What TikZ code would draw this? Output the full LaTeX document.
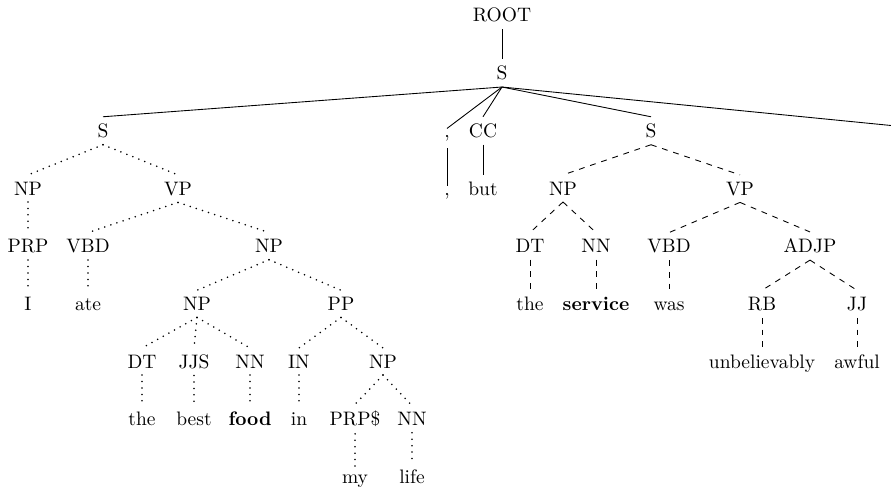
\documentclass[tikz,border=0pt]{standalone}
\begin{document}
\begin{tikzpicture}[x=0.5128pt,y=-0.5128pt,
  tn/.style={anchor=base,inner sep=3.33pt},
  soledge/.style={line width=0.45pt},
  dotedge/.style={line width=0.9pt,line cap=round,dash pattern=on 0pt off 3.3pt},
  dashedge/.style={line width=0.45pt,dashed}]
\useasboundingbox (0,0) rectangle (891,488);
% level baselines
\def\La{22}\def\Lb{79.7}\def\Lc{137.4}\def\Ld{195.1}\def\Le{252.8}
\def\Lf{310.5}\def\Lg{368.2}\def\Lh{425.9}\def\Li{483.6}
% nodes
\node[tn] (root) at (502,\La) {ROOT};
\node[tn] (s) at (502,\Lb) {S};
\node[tn] (sl) at (103,\Lc) {S};
\node[tn] (c1) at (447,\Lc) {,};
\node[tn] (cc) at (483,\Lc) {CC};
\node[tn] (sr) at (651,\Lc) {S};
\coordinate (offend) at (891,125.5);
% level 3
\node[tn] (np1) at (28,\Ld) {NP};
\node[tn] (vp1) at (178,\Ld) {VP};
\node[tn] (c2) at (447,\Ld) {,};
\node[tn] (but) at (483,\Ld) {but};
\node[tn] (np2) at (563,\Ld) {NP};
\node[tn] (vp2) at (740,\Ld) {VP};
% level 4
\node[tn] (prp) at (28,\Le) {PRP};
\node[tn] (vbd1) at (88,\Le) {VBD};
\node[tn] (np3) at (269,\Le) {NP};
\node[tn] (dt2) at (530,\Le) {DT};
\node[tn] (nn2) at (596,\Le) {NN};
\node[tn] (vbd2) at (669,\Le) {VBD};
\node[tn] (adjp) at (810,\Le) {ADJP};
% level 5
\node[tn] (i) at (28,\Lf) {I};
\node[tn] (ate) at (88,\Lf) {ate};
\node[tn] (np4) at (197,\Lf) {NP};
\node[tn] (pp) at (341,\Lf) {PP};
\node[tn] (the2) at (530,\Lf) {the};
\node[tn] (service) at (596,\Lf) {\textbf{service}};
\node[tn] (was) at (669,\Lf) {was};
\node[tn] (rb) at (762,\Lf) {RB};
\node[tn] (jj) at (857,\Lf) {JJ};
% level 6
\node[tn] (dt1) at (142,\Lg) {DT};
\node[tn] (jjs) at (194,\Lg) {JJS};
\node[tn] (nn1) at (250,\Lg) {NN};
\node[tn] (in) at (299,\Lg) {IN};
\node[tn] (np5) at (383,\Lg) {NP};
\node[tn] (unb) at (762,\Lg) {unbelievably};
\node[tn] (awful) at (857,\Lg) {awful};
% level 7
\node[tn] (the1) at (142,\Lh) {the};
\node[tn] (best) at (194,\Lh) {best};
\node[tn] (food) at (250,\Lh) {\textbf{food}};
\node[tn] (inw) at (299,\Lh) {in};
\node[tn] (prps) at (355,\Lh) {PRP\$};
\node[tn] (nn3) at (412,\Lh) {NN};
% level 8
\node[tn] (my) at (355,\Li) {my};
\node[tn] (life) at (412,\Li) {life};
% solid edges
\draw[soledge] (root.south) -- (s.north);
\draw[soledge] (s.south) -- (sl.north);
\draw[soledge] (s.south) -- (c1.north);
\draw[soledge] (s.south) -- (cc.north);
\draw[soledge] (s.south) -- (sr.north);
\draw[soledge] (s.south) -- (offend);
\draw[soledge] (c1.south) -- (c2.north);
\draw[soledge] (cc.south) -- (but.north);
% dotted edges (left clause)
\draw[dotedge] (sl.south) -- (np1.north);
\draw[dotedge] (sl.south) -- (vp1.north);
\draw[dotedge] (np1.south) -- (prp.north);
\draw[dotedge] (prp.south) -- (i.north);
\draw[dotedge] (vp1.south) -- (vbd1.north);
\draw[dotedge] (vp1.south) -- (np3.north);
\draw[dotedge] (vbd1.south) -- (ate.north);
\draw[dotedge] (np3.south) -- (np4.north);
\draw[dotedge] (np3.south) -- (pp.north);
\draw[dotedge] (np4.south) -- (dt1.north);
\draw[dotedge] (np4.south) -- (jjs.north);
\draw[dotedge] (np4.south) -- (nn1.north);
\draw[dotedge] (dt1.south) -- (the1.north);
\draw[dotedge] (jjs.south) -- (best.north);
\draw[dotedge] (nn1.south) -- (food.north);
\draw[dotedge] (pp.south) -- (in.north);
\draw[dotedge] (pp.south) -- (np5.north);
\draw[dotedge] (in.south) -- (inw.north);
\draw[dotedge] (np5.south) -- (prps.north);
\draw[dotedge] (np5.south) -- (nn3.north);
\draw[dotedge] (prps.south) -- (my.north);
\draw[dotedge] (nn3.south) -- (life.north);
% dashed edges (right clause)
\draw[dashedge] (sr.south) -- (np2.north);
\draw[dashedge] (sr.south) -- (vp2.north);
\draw[dashedge] (np2.south) -- (dt2.north);
\draw[dashedge] (np2.south) -- (nn2.north);
\draw[dashedge] (dt2.south) -- (the2.north);
\draw[dashedge] (nn2.south) -- (service.north);
\draw[dashedge] (vp2.south) -- (vbd2.north);
\draw[dashedge] (vp2.south) -- (adjp.north);
\draw[dashedge] (vbd2.south) -- (was.north);
\draw[dashedge] (adjp.south) -- (rb.north);
\draw[dashedge] (adjp.south) -- (jj.north);
\draw[dashedge] (rb.south) -- (unb.north);
\draw[dashedge] (jj.south) -- (awful.north);
\end{tikzpicture}
\end{document}
